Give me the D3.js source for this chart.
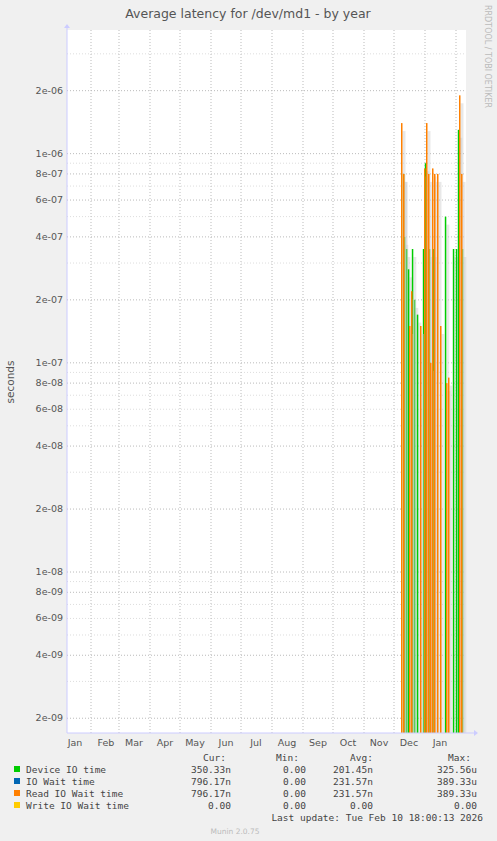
<!DOCTYPE html><html><head><meta charset="utf-8">
<script src="https://cdn.jsdelivr.net/npm/d3@7"></script>
<style>body{margin:0;background:#f0f0f0}</style></head><body>
<svg id="c" width="497" height="841" font-family="DejaVu Sans, sans-serif"></svg>
<script>
const months=["Jan","Feb","Mar","Apr","May","Jun","Jul","Aug","Sep","Oct","Nov","Dec","Jan"];
const yTickLabels=["2e-06","1e-06","8e-07","6e-07","4e-07","2e-07","1e-07","8e-08","6e-08","4e-08","2e-08","1e-08","8e-09","6e-09","4e-09","2e-09"];
const yTickValues=[2e-6,1e-6,8e-7,6e-7,4e-7,2e-7,1e-7,8e-8,6e-8,4e-8,2e-8,1e-8,8e-9,6e-9,4e-9,2e-9];
const dates=["2025-12-08","2025-12-09","2025-12-10","2025-12-11","2025-12-12","2025-12-14","2025-12-16","2025-12-18","2025-12-20","2025-12-23","2025-12-27","2025-12-29","2025-12-31","2026-01-02","2026-01-04","2026-01-06","2026-01-08","2026-01-10","2026-01-13","2026-01-16","2026-01-18","2026-01-20","2026-01-22","2026-01-24","2026-01-28","2026-01-31","2026-02-02","2026-02-04","2026-02-06","2026-02-08"];
const deviceIO=[0,8e-7,4e-7,0,3.5e-7,2.8e-7,0,3.5e-7,2e-7,1.7e-7,0,3.5e-7,9e-7,0,3.5e-7,0,3.5e-7,0,0,0,0,5e-7,0,0,3.5e-7,3.5e-7,1.3e-6,0,3.5e-7,0];
const readIO=[1.4e-6,0,8e-7,0,0,0,1.5e-7,2.2e-7,0,0,1.5e-7,0,8.5e-7,1.4e-6,8e-7,1e-7,8.5e-7,8e-7,8e-7,1.5e-7,0,0,8e-8,8.5e-8,0,0,0,1.9e-6,8e-7,0];

const svg=d3.select("#c");
const L=67,R=466,T=30,B=733;
const x=d3.scaleTime().domain([new Date("2025-01-08"),new Date("2026-02-11")]).range([L,R]);
const y=d3.scaleLog().domain([1.7e-9,3.9e-6]).range([B,T]).clamp(true);
svg.append("rect").attr("x",L).attr("y",T).attr("width",R-L).attr("height",B-T).attr("fill","#fff");
const minor=[];for(let e=-9;e<=-6;e++)for(let m=1;m<=9;m++){const v=m*Math.pow(10,e);if(v>1.7e-9&&v<3.9e-6)minor.push(v);}
svg.selectAll(".mg").data(minor).join("line").attr("x1",L).attr("x2",R).attr("y1",d=>y(d)).attr("y2",d=>y(d))
 .attr("stroke",d=>yTickValues.includes(d)?"#bbb":"#ddd").attr("stroke-dasharray","1,2");
const mstarts=d3.range(1,14).map(i=>new Date(2025,i,1));
svg.selectAll(".vg").data(mstarts).join("line").attr("x1",d=>x(d)).attr("x2",d=>x(d)).attr("y1",T).attr("y2",B).attr("stroke","#bbb").attr("stroke-dasharray","1,2");
svg.selectAll(".ml").data(months).join("text").attr("x",(d,i)=>x(new Date(2025,i,16))).attr("y",746).attr("text-anchor","middle").attr("font-size",9.5).attr("fill","#555").text(d=>d);
svg.selectAll(".yl").data(yTickValues).join("text").attr("x",L-4).attr("y",d=>y(d)+3).attr("text-anchor","end").attr("font-size",9.5).attr("fill","#555").text((d,i)=>yTickLabels[i]);
function mk(ds,vs){return ds.map((d,i)=>({d:new Date(d+"T00:00"),v:vs[i]}));}
const dev=mk(dates,deviceIO), rd=mk(dates,readIO);
function spikes(data,col,off){
 data.forEach(p=>{ if(p.v>0){const x0=x(p.d)+off;
  svg.append("rect").attr("x",x0+1.5).attr("y",y(p.v)+8).attr("width",3).attr("height",B-y(p.v)-8).attr("fill","#ccc").attr("opacity",0.45);
  svg.append("rect").attr("x",x0).attr("y",y(p.v)).attr("width",1.5).attr("height",B-y(p.v)).attr("fill",col);}});
}
spikes(dev,"#00cc00",0.8);spikes(rd,"#ff8000",0);
svg.append("line").attr("x1",L).attr("x2",R+8).attr("y1",B).attr("y2",B).attr("stroke","#ccf");
svg.append("line").attr("x1",L).attr("x2",L).attr("y1",T-5).attr("y2",B).attr("stroke","#ccf");
svg.append("path").attr("d",`M${R+8},${B-3}L${R+12},${B}L${R+8},${B+3}Z`).attr("fill","#ccf");
svg.append("path").attr("d",`M${L-3},${T-2}L${L},${T-6}L${L+3},${T-2}Z`).attr("fill","#ccf");
svg.append("text").attr("x",248).attr("y",18).attr("text-anchor","middle").attr("font-size",12.5).attr("fill","#555").text("Average latency for /dev/md1 - by year");
svg.append("text").attr("transform","translate(14,382) rotate(-90)").attr("text-anchor","middle").attr("font-size",10.5).attr("fill","#555").text("seconds");
svg.append("text").attr("transform","translate(485,5) rotate(90)").attr("font-size",8).attr("fill","#bbb").text("RRDTOOL / TOBI OETIKER");
const leg=[["Device IO time","#00cc00","350.33n","0.00","201.45n","325.56u"],["IO Wait time","#0066b3","796.17n","0.00","231.57n","389.33u"],["Read IO Wait time","#ff8000","796.17n","0.00","231.57n","389.33u"],["Write IO Wait time","#ffcc00","0.00","0.00","0.00","0.00"]];
const lg=svg.append("g").attr("font-size",9.5).attr("fill","#444").attr("font-family","DejaVu Sans Mono, monospace");
[["Cur:",226],["Min:",299],["Avg:",373],["Max:",471]].forEach(h=>lg.append("text").attr("x",h[1]).attr("y",761).attr("text-anchor","end").text(h[0]));
leg.forEach((r,i)=>{const yy=773+i*12;
 lg.append("rect").attr("x",14).attr("y",yy-7).attr("width",6).attr("height",6).attr("fill",r[1]);
 lg.append("text").attr("x",26).attr("y",yy).text(r[0]);
 [231,306,373,477].forEach((xx,j)=>lg.append("text").attr("x",xx).attr("y",yy).attr("text-anchor","end").text(r[j+2]));});
lg.append("text").attr("x",483).attr("y",821).attr("text-anchor","end").text("Last update: Tue Feb 10 18:00:13 2026");
svg.append("text").attr("x",235).attr("y",834).attr("text-anchor","middle").attr("font-size",7.5).attr("fill","#bbb").text("Munin 2.0.75");
</script></body></html>
